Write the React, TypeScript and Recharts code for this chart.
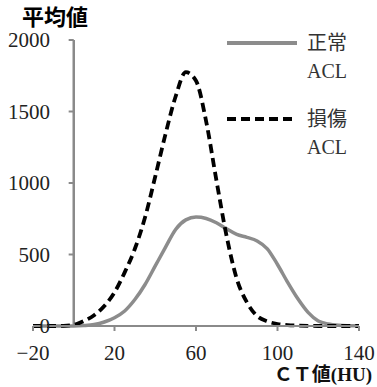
import React from 'react';
import { LineChart, Line, XAxis, YAxis, ReferenceLine } from 'recharts';

const CT_VALUES = [-20, -15, -10, -5, 0, 5, 10, 15, 20, 25, 30, 35, 40, 45, 50, 55, 60, 65, 70, 75, 80, 85, 90, 95, 100, 105, 110, 115, 120, 125, 130, 135, 140];
const NORMAL_ACL = [0, 0, 0, 0, 0, 3, 10, 28, 58, 105, 185, 290, 420, 550, 675, 742, 762, 752, 722, 680, 640, 620, 595, 540, 430, 305, 190, 95, 35, 14, 5, 2, 1];
const INJURED_ACL = [0, 0, 0, 1, 8, 35, 75, 140, 235, 375, 540, 760, 1045, 1340, 1605, 1775, 1715, 1430, 1020, 630, 330, 165, 70, 32, 14, 6, 3, 1, 0, 0, 0, 0, 0];

const X_TICKS = [-20, 20, 60, 100, 140];
const Y_TICKS = [0, 500, 1000, 1500, 2000];

const SERIES = [
  { key: 'normal', label: ['正常', 'ACL'], color: '#8c8c8c', dash: undefined as string | undefined },
  { key: 'injured', label: ['損傷', 'ACL'], color: '#000000', dash: '9 5' },
];

const chartData = CT_VALUES.map((ct, i) => ({
  ct,
  normal: NORMAL_ACL[i],
  injured: INJURED_ACL[i],
}));

const SERIF = '"Liberation Serif", "DejaVu Serif", "Noto Sans CJK JP", serif';
const AXIS_GRAY = '#8a8a8a';

const renderYTick = ({ x, y, payload }: any) => (
  <text key={payload.value} x={x + 17} y={y} textAnchor="end" dominantBaseline="central" fontSize={21} fontFamily={SERIF} fill="#222">
    {payload.value}
  </text>
);

const ChartLegend = () => (
  <div style={{ position: 'absolute', left: 227, top: 29, fontFamily: SERIF, fontSize: 20, color: '#333' }}>
    {SERIES.map((s, i) => (
      <div key={s.key} style={{ display: 'flex', alignItems: 'flex-start', marginBottom: i === 0 ? 20 : 0 }}>
        <svg width={80} height={28} style={{ flexShrink: 0 }}>
          <line x1={0} y1={14} x2={70} y2={14} stroke={s.color} strokeWidth={4} strokeDasharray={s.dash} />
        </svg>
        <div style={{ lineHeight: '28px' }}>
          {s.label.map((t) => (
            <div key={t}>{t}</div>
          ))}
        </div>
      </div>
    ))}
  </div>
);

export default function App() {
  return (
    <div style={{ position: 'relative', width: 377, height: 387, background: '#fff' }}>
      <style>{`body { margin: 0; }`}</style>
      <LineChart width={377} height={387} data={chartData} margin={{ top: 40, right: 18, left: 32, bottom: 31 }}>
        <XAxis
          dataKey="ct"
          type="number"
          domain={[-20, 140]}
          ticks={X_TICKS}
          interval={0}
          height={30}
          stroke={AXIS_GRAY}
          strokeWidth={2}
          tickSize={5}
          tickMargin={14}
          tickFormatter={(v: number) => (v < 0 ? `−${Math.abs(v)}` : String(v))}
          tick={{ fontSize: 21, fontFamily: SERIF, fill: '#222' }}
        />
        <YAxis
          type="number"
          domain={[0, 2000]}
          ticks={Y_TICKS}
          interval={0}
          width={1}
          axisLine={false}
          tickLine={false}
          tickSize={0}
          tickMargin={0}
          tick={renderYTick}
        />
        <ReferenceLine segment={[{ x: 0, y: 0 }, { x: 0, y: 2000 }]} stroke={AXIS_GRAY} strokeWidth={2.5} />
        {Y_TICKS.map((v) => (
          <ReferenceLine key={v} segment={[{ x: -2.5, y: v }, { x: 0, y: v }]} stroke={AXIS_GRAY} strokeWidth={2} />
        ))}
        {SERIES.map((s) => (
          <Line
            key={s.key}
            type="monotone"
            dataKey={s.key}
            stroke={s.color}
            strokeWidth={s.dash ? 3.8 : 3.5}
            strokeDasharray={s.dash}
            dot={false}
            activeDot={false}
            isAnimationActive={false}
          />
        ))}
      </LineChart>
      <ChartLegend />
      <div style={{ position: 'absolute', left: 22, top: 3, fontSize: 22, lineHeight: '24px', fontWeight: 'bold', fontFamily: '"Noto Sans CJK JP", sans-serif' }}>
        平均値
      </div>
      <div style={{ position: 'absolute', right: 5, top: 365, fontSize: 19, lineHeight: '20px', fontWeight: 'bold', fontFamily: SERIF, color: '#111' }}>
        ＣＴ値(HU)
      </div>
    </div>
  );
}
